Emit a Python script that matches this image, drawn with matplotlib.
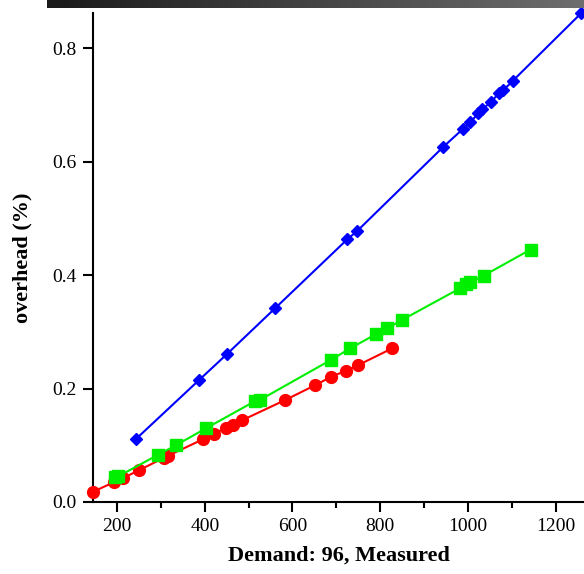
import numpy as np
import matplotlib
matplotlib.use("Agg")
import matplotlib.pyplot as plt
from matplotlib.ticker import MultipleLocator, FormatStrFormatter
from matplotlib.colors import LinearSegmentedColormap

plt.rcParams['font.family'] = ['Liberation Serif', 'DejaVu Serif']

blue_x = [243, 387, 451, 561, 725, 748, 944, 988, 1006, 1024, 1033, 1052, 1072, 1081, 1102, 1259]
blue_y = [0.111, 0.215, 0.261, 0.342, 0.463, 0.478, 0.626, 0.657, 0.670, 0.685, 0.692, 0.705, 0.721, 0.726, 0.742, 0.862]

green_x = [196, 202, 293, 334, 403, 515, 526, 689, 732, 791, 816, 850, 983, 995, 1005, 1036, 1143]
green_y = [0.044, 0.045, 0.083, 0.100, 0.130, 0.178, 0.180, 0.251, 0.271, 0.296, 0.306, 0.321, 0.377, 0.384, 0.387, 0.399, 0.445]

red_x = [145, 193, 213, 250, 307, 315, 397, 420, 449, 464, 485, 584, 652, 689, 721, 749, 828]
red_y = [0.018, 0.035, 0.042, 0.056, 0.078, 0.081, 0.111, 0.120, 0.131, 0.136, 0.144, 0.180, 0.206, 0.221, 0.231, 0.241, 0.271]

fig = plt.figure(figsize=(5.84, 5.74), dpi=100)
ax = fig.add_axes([93/584, 72/574, (584-93)/584, (502-13)/574])

ax.plot(red_x, red_y, color='#ff0000', lw=1.5, marker='o', ms=8.5, mec='#ff0000', mfc='#ff0000', clip_on=False, zorder=3)
ax.plot(green_x, green_y, color='#00ee00', lw=1.5, marker='s', ms=9, mec='#00ee00', mfc='#00ee00', clip_on=False, zorder=3)
ax.plot(blue_x, blue_y, color='#0000ff', lw=1.5, marker='D', ms=6, mec='#0000ff', mfc='#0000ff', clip_on=False, zorder=4)

ax.set_xlim(145, 1265)
ax.set_ylim(0, 0.862)
ax.xaxis.set_major_locator(MultipleLocator(200))
ax.xaxis.set_minor_locator(MultipleLocator(100))
ax.yaxis.set_major_locator(MultipleLocator(0.2))
ax.yaxis.set_major_formatter(FormatStrFormatter('%.1f'))
for s in ['top', 'right']:
    ax.spines[s].set_visible(False)
for s in ['left', 'bottom']:
    ax.spines[s].set_linewidth(1.5)
ax.tick_params(which='major', length=7.5, width=1.5, labelsize=14, direction='out', pad=4)
ax.tick_params(axis='y', which='major', pad=4.5)
ax.tick_params(which='minor', length=4, width=1.5, direction='out')

ax.set_xlabel('Demand: 96, Measured', fontsize=16, fontweight='bold')
ax.set_ylabel('overhead (%)', fontsize=16, fontweight='bold')
ax.xaxis.set_label_coords(0.5, -54/489 + (556 - 556) / 489, transform=ax.transAxes)
ax.xaxis.label.set_va('center')
ax.xaxis.set_label_coords(0.5, (502 - 556) / 489)
ax.yaxis.label.set_va('center')
ax.yaxis.set_label_coords((22 - 93) / 491, 0.5)

# top gradient bar
gax = fig.add_axes([47/584, 1 - 8/574, (584-47)/584, 8/574])
grad = np.linspace(0, 1, 256).reshape(1, -1)
cmap = LinearSegmentedColormap.from_list('g', ['#1a1a1a', '#6e6e6e'])
gax.imshow(grad, aspect='auto', cmap=cmap)
gax.set_axis_off()

fig.savefig('out.png', dpi=100)
